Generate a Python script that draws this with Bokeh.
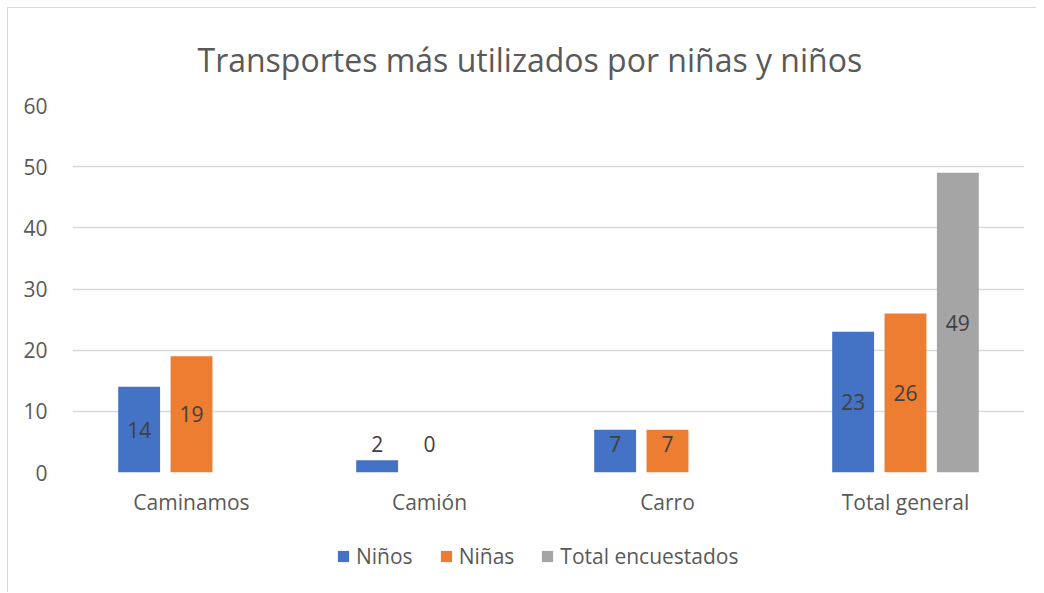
from bokeh.plotting import figure
from bokeh.layouts import column
from bokeh.models import FactorRange, Range1d, ColumnDataSource, Legend, LegendItem
from bokeh.transform import dodge
from bokeh.embed import file_html
from bokeh.resources import INLINE
from bokeh.core.properties import value

title_text = "Transportes más utilizados por niñas y niños"
categories = ["Caminamos", "Camión", "Carro", "Total general"]
series_names = ["Niños", "Niñas", "Total encuestados"]
ninos = [14, 2, 7, 23]
ninas = [19, 0, 7, 26]
total_encuestados = [None, None, None, 49]
y_ticks = [0, 10, 20, 30, 40, 50, 60]
colors = ["#4472C4", "#ED7D31", "#A5A5A5"]

FONT = "Open Sans"
TXT = "#595959"

p = figure(x_range=FactorRange(*categories), y_range=Range1d(0, 60),
           frame_width=952, frame_height=367,
           min_border_left=64, min_border_right=12, min_border_top=97, min_border_bottom=60,
           output_backend="svg", toolbar_location=None, tools="")

offsets = [-0.22, 0.0, 0.22]
for name, vals, color, off in zip(series_names, [ninos, ninas, total_encuestados], colors, offsets):
    cats = [c for c, v in zip(categories, vals) if v is not None]
    vs = [v for v in vals if v is not None]
    ly = [max(v / 2, 4.6) for v in vs]
    src = ColumnDataSource(dict(cat=cats, val=vs, ly=ly, txt=[str(v) for v in vs]))
    p.vbar(x=dodge("cat", off, range=p.x_range), top="val", width=0.176, source=src,
           fill_color=color, line_color=None)
    p.text(x=dodge("cat", off, range=p.x_range), y="ly", text="txt", source=src,
           text_align="center", text_baseline="middle", text_font=value(FONT),
           text_font_size="21px", text_color="#404040")

p.title.text = title_text
p.title.align = "left"
p.title.offset = 125
p.title.text_font = FONT
p.title.text_font_size = "32px"
p.title.text_font_style = "normal"
p.title.text_color = TXT
p.title.standoff = 50

p.yaxis.ticker = y_ticks
p.yaxis.axis_line_color = None
p.yaxis.major_tick_line_color = None
p.yaxis.minor_tick_line_color = None
p.yaxis.major_label_standoff = 19
p.xaxis.axis_line_color = None
p.xaxis.major_tick_line_color = None
p.xaxis.major_label_standoff = 9
for ax in (p.xaxis, p.yaxis):
    ax.major_label_text_font = FONT
    ax.major_label_text_font_size = "21px"
    ax.major_label_text_color = TXT

p.xgrid.grid_line_color = None
p.ygrid.grid_line_color = "#D9D9D9"
p.ygrid.grid_line_width = 1.5
p.outline_line_color = None

# legend strip below the chart
lg = figure(width=1028, height=60, x_range=Range1d(0, 1), y_range=Range1d(0, 1),
            min_border=0, output_backend="svg", toolbar_location=None, tools="")
lg.axis.visible = False
lg.grid.visible = False
lg.outline_line_color = None
items = []
for name, color in zip(series_names, colors):
    r = lg.vbar(x=[float("nan")], top=[float("nan")], width=0.1, fill_color=color, line_color=None)
    items.append(LegendItem(label=name, renderers=[r], index=0))
legend = Legend(items=items, orientation="horizontal", location=(264, 22), margin=0,
                glyph_width=14, glyph_height=14, label_standoff=6, spacing=26,
                padding=4, border_line_color=None, background_fill_alpha=0,
                label_text_font=FONT, label_text_font_size="21px", label_text_color=TXT)
lg.add_layout(legend, "center")

layout = column(p, lg, spacing=0)
layout.styles = {"margin-left": "7px", "margin-top": "7px",
                 "border-left": "1px solid #D9D9D9", "border-top": "1px solid #D9D9D9"}

open("out.html", "w").write(file_html(layout, INLINE))
